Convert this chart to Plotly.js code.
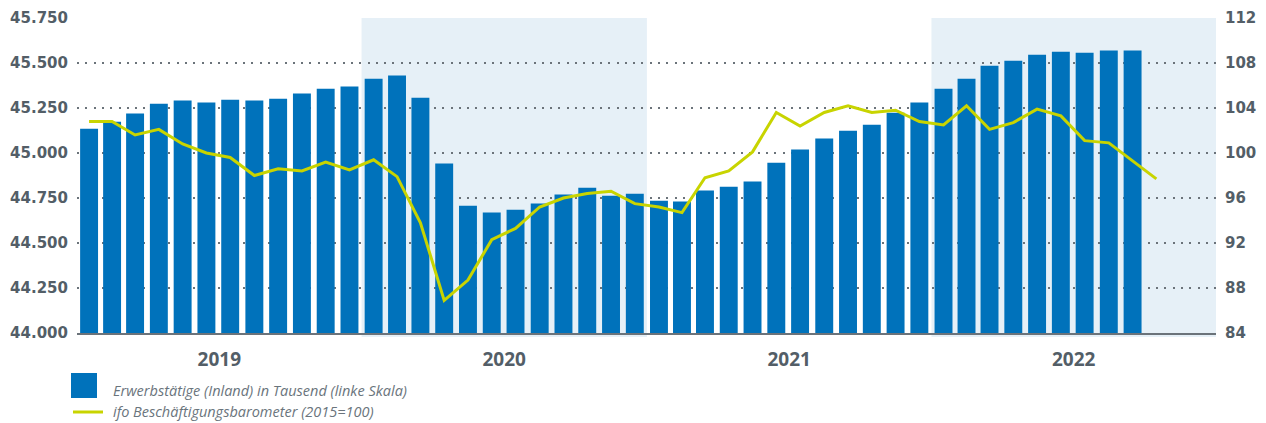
<!DOCTYPE html>
<html>
<head>
<meta charset="utf-8">
<script src="https://cdn.plot.ly/plotly-3.0.1.min.js"></script>
<style>html,body{margin:0;padding:0;background:#fff}#chart{width:1266px;height:423px}</style>
</head>
<body>
<div id="chart"></div>
<script>
// Months (bars: Jan 2019 – Sep 2022, line: Jan 2019 – Oct 2022)
const barMonths = [
  "2019-01","2019-02","2019-03","2019-04","2019-05","2019-06","2019-07","2019-08","2019-09","2019-10","2019-11","2019-12",
  "2020-01","2020-02","2020-03","2020-04","2020-05","2020-06","2020-07","2020-08","2020-09","2020-10","2020-11","2020-12",
  "2021-01","2021-02","2021-03","2021-04","2021-05","2021-06","2021-07","2021-08","2021-09","2021-10","2021-11","2021-12",
  "2022-01","2022-02","2022-03","2022-04","2022-05","2022-06","2022-07","2022-08","2022-09"
];
const employed = [
  45135,45174,45219,45274,45291,45280,45296,45291,45302,45330,45357,45369,
  45413,45430,45307,44941,44707,44669,44685,44719,44769,44807,44763,44774,
  44735,44730,44791,44813,44841,44946,45019,45080,45124,45157,45224,45280,
  45357,45413,45485,45513,45546,45563,45557,45569,45569
];
const lineMonths = barMonths.concat(["2022-10"]);
const ifo = [
  102.8,102.8,101.6,102.1,100.8,100.0,99.6,98.0,98.6,98.4,99.2,98.5,
  99.4,97.9,93.8,86.9,88.7,92.3,93.3,95.2,96.0,96.4,96.6,95.5,
  95.2,94.7,97.8,98.4,100.1,103.6,102.4,103.6,104.2,103.6,103.8,102.8,
  102.5,104.2,102.1,102.7,103.9,103.3,101.1,100.9,99.3,97.7
];
const shadedYears = [["2020-01-01","2021-01-01"],["2022-01-01","2023-01-01"]];
const legendLabels = [
  "Erwerbstätige (Inland) in Tausend (linke Skala)",
  "ifo Beschäftigungsbarometer (2015=100)"
];

// layout geometry (pixels)
const W = 1266, H = 423, L = 77, R = 1216, T = 18, B = 333;
const px = x => (x - L) / (R - L);
const py = y => (B - y) / (B - T);

const tickColor = "#535e67";
const tickFont = {family: "DejaVu Sans, sans-serif", size: 15, color: tickColor, weight: 700};
const legendFont = {family: "Open Sans, sans-serif", size: 14.5, color: "#6a747c", style: "italic"};

const shapes = shadedYears.map(s => ({
  type: "rect", xref: "x", yref: "paper", x0: s[0], x1: s[1], y0: py(337), y1: 1,
  fillcolor: "#e6f0f7", line: {width: 0}, layer: "below"
}));
shapes.push({type: "rect", xref: "paper", yref: "paper", x0: px(71), x1: px(97), y0: py(398), y1: py(373),
  fillcolor: "#0072bb", line: {width: 0}});
shapes.push({type: "line", xref: "paper", yref: "paper", x0: px(73), x1: px(103), y0: py(412), y1: py(412),
  line: {color: "#c8d400", width: 3}});

const annotations = [
  {text: legendLabels[0], xref: "paper", yref: "paper", x: px(111), y: py(390), xanchor: "left", yanchor: "middle",
   showarrow: false, font: legendFont},
  {text: legendLabels[1], xref: "paper", yref: "paper", x: px(111), y: py(411.5), xanchor: "left", yanchor: "middle",
   showarrow: false, font: legendFont}
];

const DAY = 86400000;
const traces = [
  {type: "bar", x: barMonths, y: employed, xperiod: "M1", xperiodalignment: "middle",
   width: 23 * DAY, marker: {color: "#0072bb", line: {width: 0}}, name: legendLabels[0], hoverinfo: "x+y"},
  {type: "scatter", mode: "lines", x: lineMonths, y: ifo, yaxis: "y2", xperiod: "M1", xperiodalignment: "middle",
   line: {color: "#c8d400", width: 3}, name: legendLabels[1]}
];

const layout = {
  width: W, height: H,
  margin: {l: L, r: W - R, t: T, b: H - B, pad: 0},
  paper_bgcolor: "#fff", plot_bgcolor: "rgba(0,0,0,0)",
  separators: ",.",
  showlegend: false,
  xaxis: {
    type: "date", range: ["2019-01-01", "2023-01-01"],
    dtick: "M12", tick0: "2019-01-01", tickformat: "%Y", ticklabelmode: "period",
    showgrid: false, zeroline: false, showline: true, linecolor: "#6b737a", linewidth: 1.5,
    ticks: "", ticklabelstandoff: 9,
    tickfont: {family: "Open Sans, sans-serif", size: 19, color: tickColor, weight: 700}
  },
  yaxis: {
    range: [44000, 45750], dtick: 250, tick0: 44000, tickformat: ",d",
    showgrid: true, gridcolor: "#6b737a", gridwidth: 2, griddash: "2px,6.3px",
    zeroline: false, ticks: "", ticklabelstandoff: 8, tickfont: tickFont, fixedrange: true
  },
  yaxis2: {
    range: [84, 112], dtick: 4, tick0: 84, overlaying: "y", side: "right",
    showgrid: false, zeroline: false, ticks: "", ticklabelstandoff: 8, tickfont: tickFont
  },
  shapes: shapes,
  annotations: annotations
};

Plotly.newPlot("chart", traces, layout, {displayModeBar: false, staticPlot: true});
</script>
</body>
</html>
